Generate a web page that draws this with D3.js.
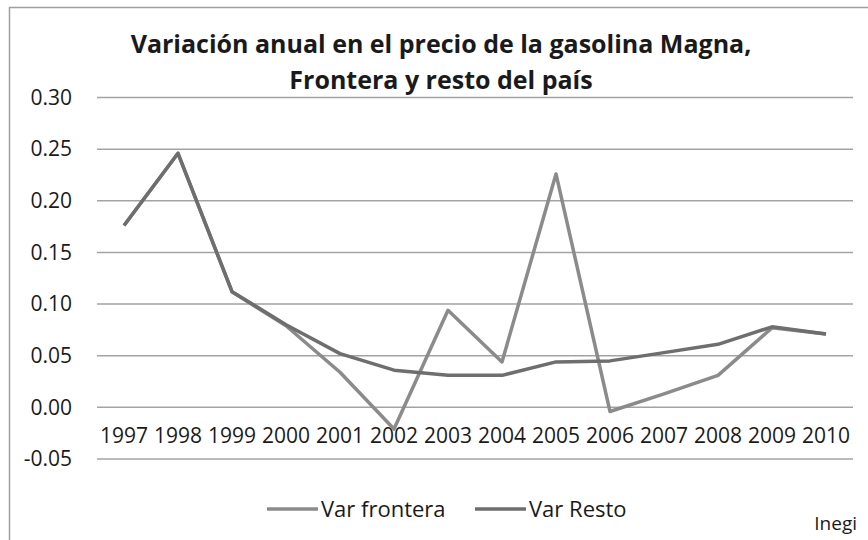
<!DOCTYPE html>
<html>
<head>
<meta charset="utf-8">
<script src="https://cdn.jsdelivr.net/npm/d3@7"></script>
<style>
  body { margin: 0; background: #fff; }
  text { font-family: "Open Sans", sans-serif; fill: #1a1a1a; }
</style>
</head>
<body>
<div id="chart"></div>
<script>
// data
const years = ["1997", "1998", "1999", "2000", "2001", "2002", "2003", "2004", "2005", "2006", "2007", "2008", "2009", "2010"];
const varFrontera = [0.176, 0.246, 0.112, 0.079, 0.034, -0.021, 0.094, 0.044, 0.226, -0.004, 0.013, 0.031, 0.077, 0.071];
const varResto = [0.176, 0.246, 0.112, 0.080, 0.052, 0.036, 0.031, 0.031, 0.044, 0.045, 0.053, 0.061, 0.078, 0.071];
const yTicks = [-0.05, 0, 0.05, 0.10, 0.15, 0.20, 0.25, 0.30];
const seriesNames = ["Var frontera", "Var Resto"];
const seriesColors = ["#8b8b8b", "#6e6e6e"];

const width = 868, height = 540;

let svg = d3.select("#chart").append("svg")
    .attr("width", width)
    .attr("height", height);

// chart frame (continues past right and bottom edges)
svg.append("rect")
    .attr("x", 9.5).attr("y", 7.5)
    .attr("width", 880).attr("height", 560)
    .attr("fill", "none")
    .attr("stroke", "#a0a0a0")
    .attr("stroke-width", 1.5);

// scales
let x = d3.scaleBand().domain(years).range([97, 853]);
let y = d3.scaleLinear().domain([-0.05, 0.30]).range([459, 97.5]);

// gridlines
svg.append("g")
    .selectAll("line")
    .data(yTicks)
    .enter().append("line")
    .attr("x1", 97).attr("x2", 853)
    .attr("y1", d => y(d)).attr("y2", d => y(d))
    .attr("stroke", "#a3a3a3")
    .attr("stroke-width", 1.5);

// y axis
let fmt = d => d3.format(".2f")(d).replace("−", "-");
let yAxis = svg.append("g")
    .attr("transform", "translate(97,0)")
    .call(d3.axisLeft(y).tickValues(yTicks).tickFormat(fmt).tickSize(0).tickPadding(25));
yAxis.select(".domain").remove();
yAxis.selectAll("text")
    .attr("font-size", 21)
    .attr("font-family", "Open Sans, sans-serif")
    .attr("fill", "#1a1a1a");

// x axis at zero line
let xAxis = svg.append("g")
    .attr("transform", "translate(0," + y(0) + ")")
    .call(d3.axisBottom(x).tickSize(0).tickPadding(21));
xAxis.select(".domain").remove();
xAxis.selectAll("text")
    .attr("font-size", 21)
    .attr("font-family", "Open Sans, sans-serif")
    .attr("fill", "#1a1a1a");

// lines
let line = d3.line()
    .x((d, i) => x(years[i]) + x.bandwidth() / 2)
    .y(d => y(d));

[varFrontera, varResto].forEach((s, i) => {
    svg.append("path")
        .datum(s)
        .attr("d", line)
        .attr("fill", "none")
        .attr("stroke", seriesColors[i])
        .attr("stroke-width", 3.5)
        .attr("stroke-linejoin", "round");
});

// title
let title = svg.append("text")
    .attr("text-anchor", "middle")
    .attr("font-size", 25)
    .attr("font-weight", "bold");
title.append("tspan").attr("x", 441).attr("y", 53)
    .text("Variación anual en el precio de la gasolina Magna,");
title.append("tspan").attr("x", 441).attr("y", 89)
    .text("Frontera y resto del país");

// legend
const legendX = [267, 475];
seriesNames.forEach((n, i) => {
    let g = svg.append("g").attr("transform", "translate(" + legendX[i] + ",509)");
    g.append("line")
        .attr("x1", 0).attr("x2", 51)
        .attr("stroke", seriesColors[i])
        .attr("stroke-width", 3.5);
    g.append("text")
        .attr("x", 54).attr("dy", "0.35em")
        .attr("font-size", 22)
        .text(n);
});

// source
svg.append("text")
    .attr("x", 857).attr("y", 530)
    .attr("text-anchor", "end")
    .attr("font-size", 19)
    .text("Inegi");
</script>
</body>
</html>
